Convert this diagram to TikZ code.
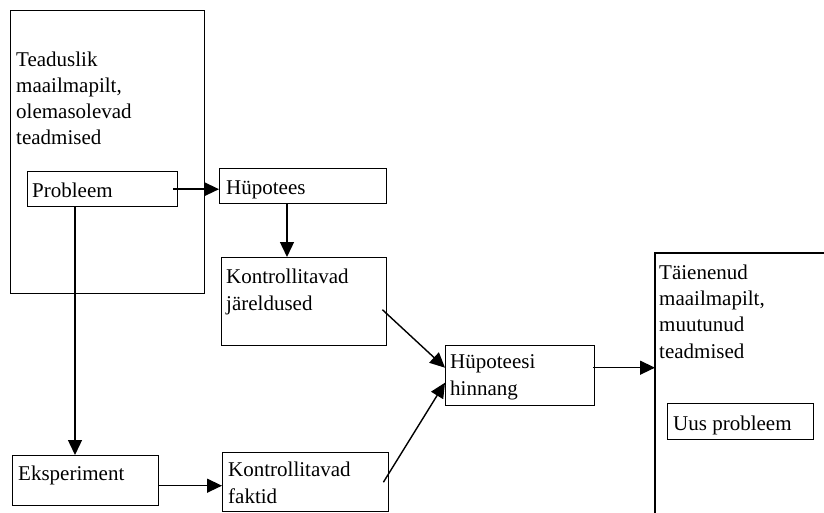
\documentclass[tikz,border=0pt]{standalone}
\usepackage{fontspec}
\setmainfont{Liberation Serif}
\usetikzlibrary{arrows.meta}
\begin{document}
\begin{tikzpicture}[x=1pt,y=-1pt,
  box/.style={draw,line width=1.4pt,rectangle,inner sep=0pt,anchor=north west},
  txt/.style={anchor=base west,inner sep=0pt,align=left,font=\fontsize{21}{26.3}\selectfont},
  arr/.style={line width=1.4pt,-{Triangle[length=15pt,width=14pt]}},
  ln/.style={line width=1.4pt}]
\useasboundingbox (0,0) rectangle (824,513);
% boxes
\node[box,minimum width=194pt,minimum height=283pt] (big) at (10,10) {};
\node[box,minimum width=150pt,minimum height=35pt] (prob) at (27,171) {};
\node[box,minimum width=167pt,minimum height=35pt] (hyp) at (219,168) {};
\node[box,minimum width=165pt,minimum height=88pt] (jar) at (221,257) {};
\node[box,minimum width=146pt,minimum height=50pt] (eks) at (12,455) {};
\node[box,minimum width=166pt,minimum height=59pt] (fak) at (222,452) {};
\node[box,minimum width=149pt,minimum height=60pt] (hin) at (445,345) {};
\node[rectangle,inner sep=0pt,anchor=north west,minimum width=169pt,minimum height=262pt] (tai) at (655,253) {};
\draw[ln] (tai.south west) -- (tai.north west) -- (tai.north east);
\node[box,minimum width=146pt,minimum height=36pt] (uus) at (667,403) {};
% texts (base = baseline of last line)
\node[txt] (tbig) at (16,145) {Teaduslik\\maailmapilt,\\olemasolevad\\teadmised};
\node[txt] (tprob) at (32,197) {Probleem};
\node[txt] (thyp) at (226,195) {Hüpotees};
\node[txt] (tjar) at (226,310) {Kontrollitavad\\järeldused};
\node[txt] (teks) at (18,480) {Eksperiment};
\node[txt] (tfak) at (228,503) {Kontrollitavad\\faktid};
\node[txt] (thin) at (450,395) {Hüpoteesi\\hinnang};
\node[txt] (ttai) at (659,358) {Täienenud\\maailmapilt,\\muutunud\\teadmised};
\node[txt] (tuus) at (673,430) {Uus probleem};
% connectors
\coordinate (p1) at ([xshift=-5pt]prob.east);
\draw[arr] (p1) -- (p1 -| hyp.west);
\coordinate (h1) at ([xshift=68pt]hyp.south west);
\draw[arr] (h1) -- (h1 |- jar.north);
\coordinate (p2) at ([xshift=48pt]prob.south west);
\draw[arr] (p2) -- (p2 |- eks.north);
\coordinate (e1) at ([yshift=-5pt]eks.east);
\draw[arr] (e1) -- (e1 -| fak.west);
\draw[arr] ([xshift=-5pt,yshift=-8pt]jar.east) -- ([yshift=8pt]hin.west);
\draw[arr] ([xshift=-6pt]fak.east) -- ([yshift=-7pt]hin.west);
\coordinate (n1) at ([xshift=-2pt,yshift=8pt]hin.east);
\draw[arr] (n1) -- (n1 -| tai.west);
\end{tikzpicture}
\end{document}
